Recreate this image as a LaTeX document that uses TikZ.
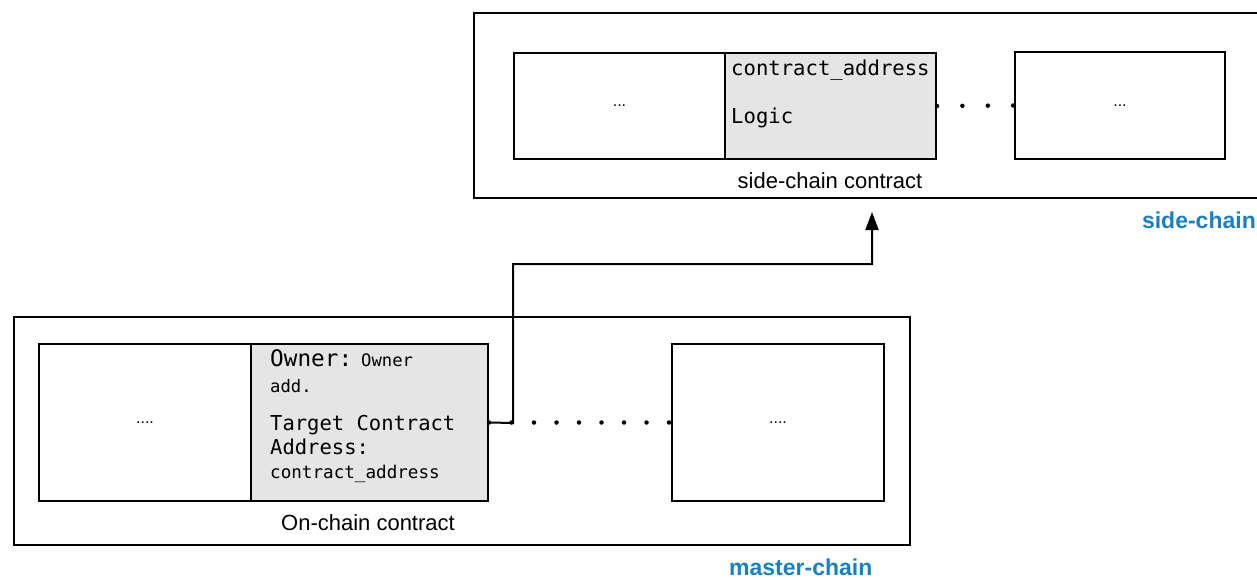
\documentclass[tikz,border=0pt]{standalone}
\usepackage{fontspec}
\setmainfont{Liberation Sans}
\newfontfamily\monof{DejaVu Sans Mono}
\usetikzlibrary{arrows.meta}
\definecolor{chainblue}{RGB}{28,128,192}
\definecolor{cellgray}{RGB}{229,229,229}
\tikzset{
  cell/.style={draw, line width=2pt, anchor=north west, inner sep=0pt},
  grayc/.style={cell, fill=cellgray},
  frame/.style={draw, line width=2pt},
  mtxt/.style={anchor=base west, inner sep=0pt},
  ltxt/.style={anchor=base, inner sep=0pt, font=\fontsize{22}{26}\selectfont},
  btxt/.style={inner sep=0pt, font=\fontsize{23}{27}\selectfont\bfseries, text=chainblue},
  etxt/.style={inner sep=0pt, font=\fontsize{16}{18}\selectfont},
  dotline/.style={line width=4.5pt, line cap=round},
  link/.style={line width=2pt, -{Triangle[length=18pt,width=13pt]}}
}
\begin{document}
\begin{tikzpicture}[x=1pt,y=-1pt]
\clip (0,0) rectangle (1257,580);
\fill[white] (0,0) rectangle (1257,580);

% side-chain frame (right side runs off the picture)
\node[frame, anchor=north west, minimum width=800pt, minimum height=185pt] (sframe) at (473,12) {};
% master-chain frame
\node[frame, anchor=north west, minimum width=896pt, minimum height=228pt] (mframe) at (13,316) {};

% side-chain cells
\node[cell, minimum width=211pt, minimum height=106pt] (s1) at (513,52) {};
\node[grayc, minimum width=211pt, minimum height=106pt] (s2) at (724,52) {};
\node[cell, minimum width=210pt, minimum height=107pt] (s3) at (1014,51) {};

% master-chain cells
\node[cell, minimum width=212pt, minimum height=157pt] (m1) at (38,343) {};
\node[grayc, minimum width=237pt, minimum height=157pt] (m2) at (250,343) {};
\node[cell, minimum width=212pt, minimum height=157pt] (m3) at (671,343) {};

% ellipses
\node[etxt] (s1t) at (s1.center) {...};
\node[etxt] (s3t) at (s3.center) {...};
\node[etxt] (m1t) at (m1.center) {....};
\node[etxt] (m3t) at (m3.center) {....};

% side gray text
\node[mtxt, font=\monof\fontsize{20.6}{24}\selectfont] (sca) at (731,76) {contract\_address};
\node[mtxt, font=\monof\fontsize{20.6}{24}\selectfont] (slg) at (731,124) {Logic};

% master gray text
\node[mtxt, font=\monof\fontsize{22.7}{26}\selectfont] (own) at (270,366) {Owner:};
\node[mtxt, font=\monof\fontsize{17.2}{20}\selectfont] (owa) at (361,366) {Owner};
\node[mtxt, font=\monof\fontsize{17.2}{20}\selectfont] (add) at (270,392) {add.};
\node[mtxt, font=\monof\fontsize{20.5}{24}\selectfont] (tgc) at (270,430) {Target Contract};
\node[mtxt, font=\monof\fontsize{20.5}{24}\selectfont] (tga) at (270,454) {Address:};
\node[mtxt, font=\monof\fontsize{17.6}{20}\selectfont] (tcv) at (270,478) {contract\_address};

% labels
\node[ltxt] (slab) at (830,189) {side-chain contract};
\node[ltxt] (mlab) at (368,530) {On-chain contract};
\node[btxt, anchor=base east] (sname) at (1256,228) {side-chain};
\node[btxt, anchor=base west] (mname) at (729,575) {master-chain};

% dotted chains
\draw[dotline, dash pattern=on 0pt off 25.4pt] (s2.east) -- (s3.west);
\draw[dotline, dash pattern=on 0pt off 22.5pt] (m2.east) -- (m3.west);

% link from target contract address to side-chain contract
\coordinate (tip) at (872,212);
\draw[link] (m2.east) -- (513,423) -- (513,264) -- (872,264) -- (tip);
\end{tikzpicture}
\end{document}
